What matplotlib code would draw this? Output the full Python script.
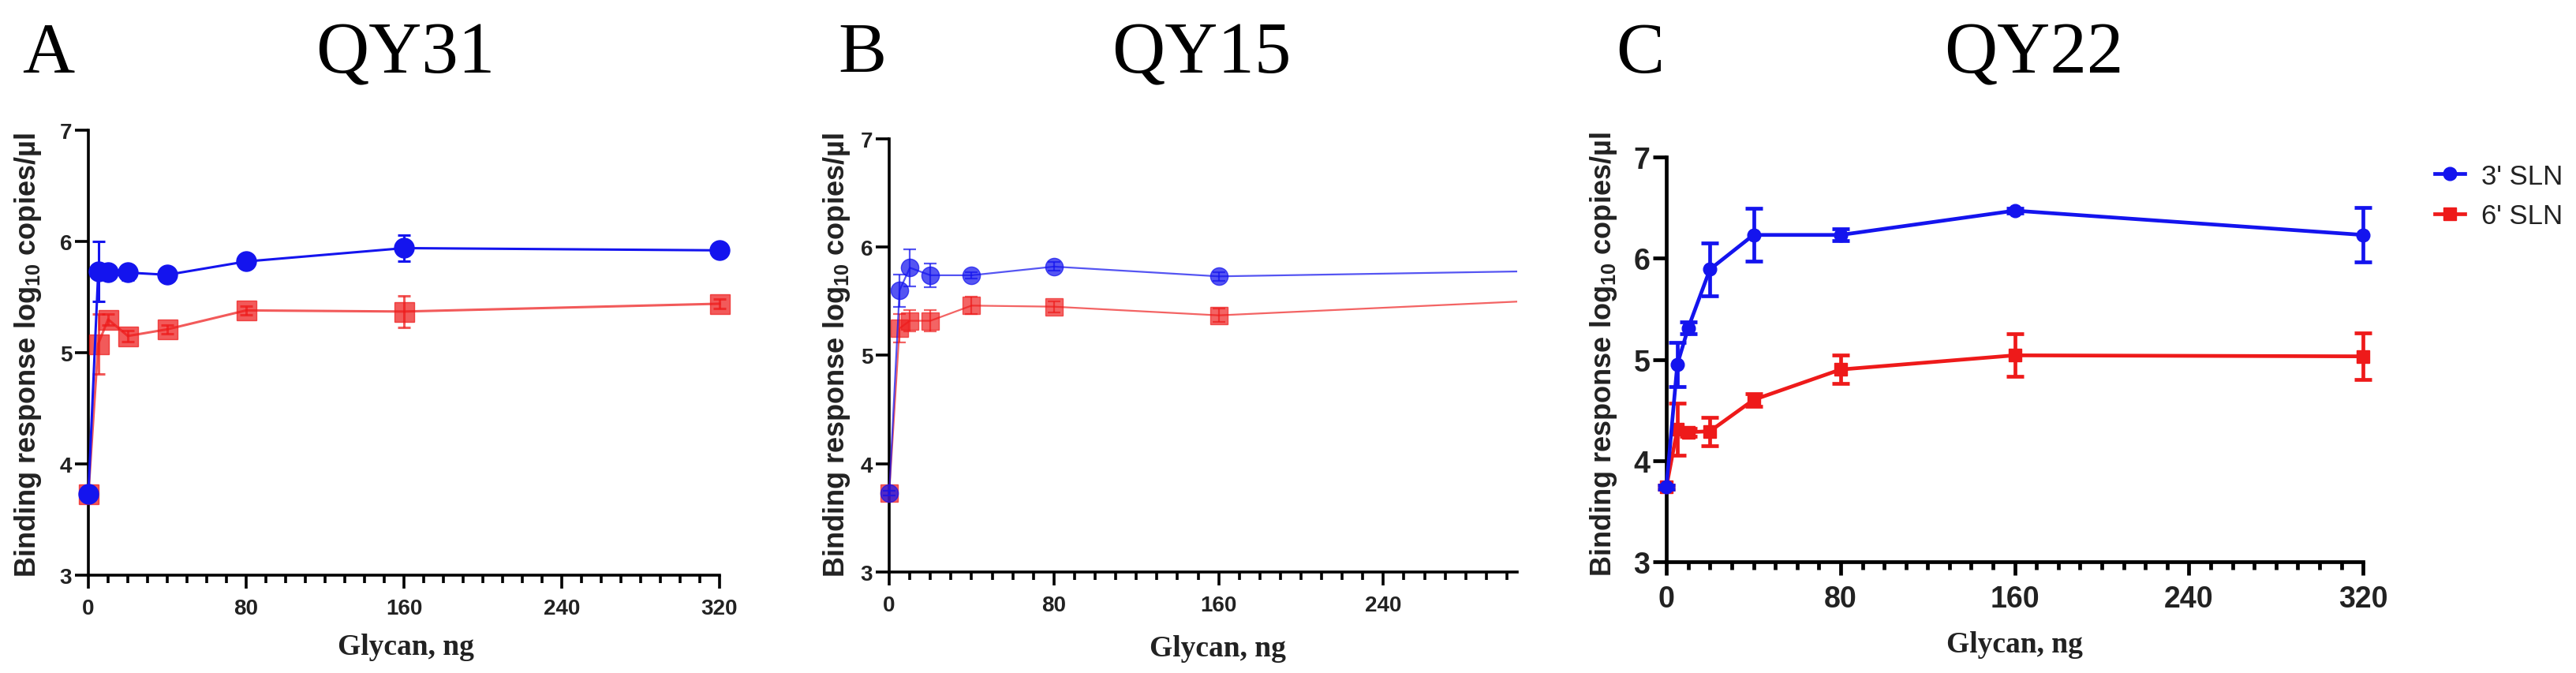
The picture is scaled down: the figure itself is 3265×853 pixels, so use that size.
"""Three-panel glycan binding curves (QY31, QY15, QY22)."""

import matplotlib

matplotlib.use('Agg')
import matplotlib.pyplot as plt
from matplotlib.ticker import MultipleLocator
from matplotlib.transforms import Bbox, TransformedBbox

plt.rcParams['font.family'] = ['Liberation Sans', 'DejaVu Sans']
plt.rcParams['mathtext.fontset'] = 'custom'
plt.rcParams['mathtext.bf'] = 'Liberation Sans:bold'
plt.rcParams['mathtext.rm'] = 'Liberation Sans:bold'

SERIF = ['Liberation Serif', 'DejaVu Serif']

# glycan amount, ng
GLYCAN_NG = [0, 5, 10, 20, 40, 80, 160, 320]

# QY31
QY31_3SLN = [3.73, 5.73, 5.72, 5.72, 5.70, 5.82, 5.94, 5.92]
QY31_3SLN_ERR = [0.02, 0.27, 0.03, 0.07, 0.03, 0.04, 0.12, 0.03]
QY31_6SLN = [3.73, 5.08, 5.30, 5.15, 5.21, 5.38, 5.37, 5.44]
QY31_6SLN_ERR = [0.02, 0.27, 0.05, 0.05, 0.04, 0.04, 0.14, 0.04]

# QY15 (last point lies beyond the axis end and is clipped)
QY15_3SLN = [3.73, 5.60, 5.81, 5.74, 5.74, 5.82, 5.73, 5.78]
QY15_3SLN_ERR = [0.02, 0.15, 0.17, 0.11, 0.03, 0.04, 0.04, 0.03]
QY15_6SLN = [3.73, 5.25, 5.32, 5.32, 5.46, 5.45, 5.37, 5.51]
QY15_6SLN_ERR = [0.02, 0.13, 0.10, 0.10, 0.08, 0.05, 0.06, 0.04]

# QY22
QY22_3SLN = [3.74, 4.95, 5.31, 5.89, 6.23, 6.23, 6.47, 6.23]
QY22_3SLN_ERR = [0.02, 0.22, 0.06, 0.26, 0.26, 0.06, 0.02, 0.27]
QY22_6SLN = [3.74, 4.31, 4.28, 4.29, 4.60, 4.90, 5.04, 5.03]
QY22_6SLN_ERR = [0.02, 0.26, 0.04, 0.14, 0.06, 0.14, 0.21, 0.23]

LETTERS = ['A', 'B', 'C']
TITLES = ['QY31', 'QY15', 'QY22']
SERIES_LABELS = ["3' SLN", "6' SLN"]
X_TICKS = [[0, 80, 160, 240, 320], [0, 80, 160, 240], [0, 80, 160, 240, 320]]
Y_TICKS = [3, 4, 5, 6, 7]
X_LABEL = 'Glycan, ng'
Y_LABEL = r'Binding response log$_{\mathbf{10}}$ copies/µl'

PANEL_DATA = [
    (QY31_3SLN, QY31_3SLN_ERR, QY31_6SLN, QY31_6SLN_ERR),
    (QY15_3SLN, QY15_3SLN_ERR, QY15_6SLN, QY15_6SLN_ERR),
    (QY22_3SLN, QY22_3SLN_ERR, QY22_6SLN, QY22_6SLN_ERR),
]

BLUE = '#1414ee'
RED = '#ee1a1a'

# layout / style per panel
STYLES = [
    dict(rect=[0.0343, 0.1452, 0.2449, 0.6604], xmax=320, clip_x=340,
         lw=2.2, ms=18, cap=6, spine=2.6, tick_fs=20, blue_alpha=1.0,
         red_alpha=0.72, ylab_x=-0.096, ylab_y=0.496, xlab_x=0.5025,
         xlab_y=-0.16, title_x=0.1574, letter_x=0.0086),
    dict(rect=[0.3451, 0.1499, 0.2437, 0.6429], xmax=305, clip_x=305,
         lw=1.6, ms=16, cap=6, spine=2.6, tick_fs=20, blue_alpha=0.72,
         red_alpha=0.68, ylab_x=-0.084, ylab_y=0.503, xlab_x=0.523,
         xlab_y=-0.175, title_x=0.4663, letter_x=0.3252),
    dict(rect=[0.6467, 0.1651, 0.2704, 0.6007], xmax=320, clip_x=340,
         lw=3.4, ms=12, cap=8, spine=3.4, tick_fs=27, blue_alpha=1.0,
         red_alpha=1.0, ylab_x=-0.0906, ylab_y=0.515, xlab_x=0.50,
         xlab_y=-0.203, title_x=0.7893, letter_x=0.6271),
]


def draw_series(ax, y, err, color, marker, alpha, st, z):
    cont = ax.errorbar(GLYCAN_NG, y, yerr=err, color=color, marker=marker,
                       ms=st['ms'], mec=color, mfc=color, lw=st['lw'],
                       elinewidth=st['lw'], capsize=st['cap'],
                       capthick=st['lw'], alpha=alpha, zorder=z)
    clip = TransformedBbox(Bbox.from_extents(-40, 2.0, st['clip_x'], 8.0),
                           ax.transData)
    for art in [cont[0], *cont[1], *cont[2]]:
        art.set_clip_path(None)
        art.set_clip_box(clip)
        art.set_clip_on(True)
    return cont[0]


fig = plt.figure(figsize=(32.66, 8.54), dpi=100)
handles = []

for i, st in enumerate(STYLES):
    ax = fig.add_axes(st['rect'])
    blue, blue_err, red, red_err = PANEL_DATA[i]
    h_red = draw_series(ax, red, red_err, RED, 's', st['red_alpha'], st, 3)
    h_blue = draw_series(ax, blue, blue_err, BLUE, 'o', st['blue_alpha'], st, 4)
    handles = [h_blue, h_red]

    ax.set_xlim(0, st['xmax'])
    ax.set_ylim(3, 7)
    ax.set_xticks(X_TICKS[i])
    ax.set_yticks(Y_TICKS)
    ax.xaxis.set_minor_locator(MultipleLocator(10))
    for side in ('top', 'right'):
        ax.spines[side].set_visible(False)
    for side in ('left', 'bottom'):
        ax.spines[side].set_linewidth(st['spine'])
    ax.tick_params(axis='both', which='major', length=12, width=st['spine'],
                   labelsize=st['tick_fs'], labelcolor='#222222')
    ax.tick_params(axis='x', which='major', pad=9)
    ax.tick_params(axis='y', which='major', pad=3)
    ax.tick_params(axis='x', which='minor', length=7, width=st['spine'])
    for lab in ax.get_xticklabels() + ax.get_yticklabels():
        lab.set_fontweight('bold')

    ax.set_ylabel(Y_LABEL, fontsize=26, fontweight='bold', color='#222222',
                  va='center')
    ax.yaxis.set_label_coords(st['ylab_x'], st['ylab_y'])
    ax.set_xlabel(X_LABEL, fontsize=27, fontweight='bold', family=SERIF,
                  color='#222222', va='center')
    ax.xaxis.set_label_coords(st['xlab_x'], st['xlab_y'])

    fig.text(st['title_x'], 0.892, TITLES[i], fontsize=67, family=SERIF,
             ha='center', va='baseline')
    fig.text(st['letter_x'], 0.892, LETTERS[i], fontsize=66, family=SERIF,
             ha='left', va='baseline')

fig.legend(handles, SERIES_LABELS, loc='upper left',
           bbox_to_anchor=(0.9449, 0.757), frameon=False, fontsize=25,
           handlelength=1.1, handletextpad=0.6, labelspacing=0.5,
           borderpad=0, borderaxespad=0, labelcolor='#222222')

fig.savefig('out.png', dpi=100)
plt.close(fig)
